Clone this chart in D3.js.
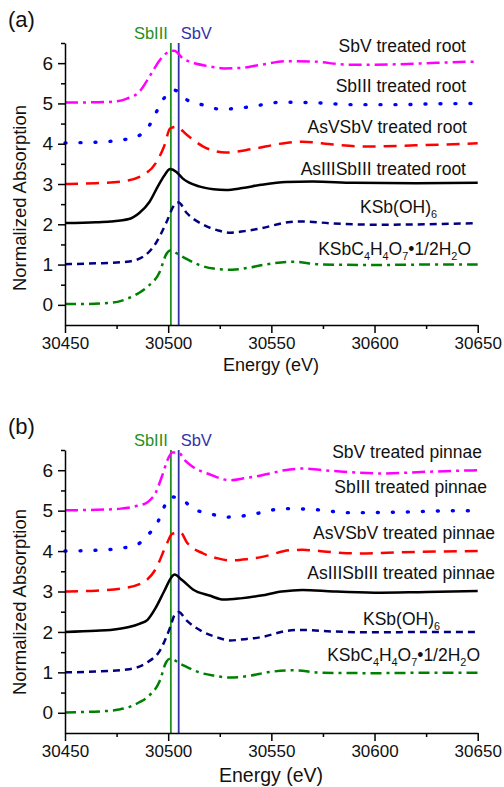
<!DOCTYPE html>
<html>
<head>
<meta charset="utf-8">
<script src="https://cdn.jsdelivr.net/npm/d3@7"></script>
<style>
  body { margin: 0; background: #fff; }
  text { font-family: "Liberation Sans", Arial, sans-serif; }
</style>
</head>
<body>
<div id="chart"></div>
<script>
// energies (eV) and normalized absorption (before offset)
var rootKSbC = [[30450,0.02],[30460,0.02],[30469,0.04],[30476,0.08],[30481,0.17],[30486,0.3],[30490,0.45],[30496,0.83],[30499,1.25],[30501,1.35],[30506,1.22],[30515,0.99],[30522,0.9],[30531,0.87],[30540,0.93],[30548,1.01],[30560,1.07],[30575,1.0],[30600,0.99],[30625,1.0],[30650,1.0]];
var rootKSbOH = [[30450,0.01],[30465,0.03],[30480,0.07],[30488,0.2],[30494,0.53],[30499,1.03],[30503,1.48],[30505,1.54],[30509,1.28],[30517,0.99],[30524,0.85],[30530,0.79],[30537,0.83],[30545,0.9],[30558,1.05],[30565,1.07],[30580,1.02],[30600,0.99],[30625,1.0],[30650,1.03]];
var rootAsIII = [[30450,0.03],[30465,0.05],[30472,0.07],[30481,0.13],[30486,0.28],[30491,0.56],[30495,0.94],[30498,1.2],[30501,1.37],[30504,1.3],[30507,1.14],[30515,0.94],[30522,0.87],[30528,0.85],[30536,0.9],[30545,0.98],[30557,1.05],[30570,1.06],[30590,1.03],[30620,1.02],[30650,1.03]];
var rootAsV = [[30450,0.0],[30465,0.02],[30477,0.06],[30488,0.23],[30494,0.52],[30498,0.93],[30501,1.38],[30504,1.42],[30509,1.22],[30517,0.93],[30528,0.78],[30541,0.87],[30557,1.02],[30565,1.05],[30580,0.98],[30595,0.93],[30620,0.96],[30650,1.01]];
var rootSbIII = [[30450,0.02],[30460,0.03],[30470,0.05],[30477,0.09],[30485,0.18],[30490,0.38],[30494,0.76],[30498,1.13],[30503,1.33],[30509,1.09],[30517,0.96],[30525,0.86],[30532,0.87],[30540,0.92],[30555,1.03],[30570,1.02],[30590,0.97],[30610,0.97],[30630,0.99],[30650,1.0]];
var rootSbV = [[30450,0.02],[30465,0.03],[30473,0.04],[30480,0.12],[30486,0.29],[30491,0.67],[30496,1.08],[30499,1.24],[30503,1.31],[30507,1.12],[30512,1.01],[30520,0.92],[30527,0.87],[30535,0.88],[30545,0.96],[30558,1.05],[30570,1.04],[30588,0.96],[30610,0.97],[30630,1.01],[30650,1.04]];

var pinKSbC = [[30450,0.01],[30469,0.04],[30476,0.08],[30481,0.14],[30486,0.26],[30490,0.39],[30496,0.8],[30499,1.25],[30501,1.34],[30506,1.21],[30515,1.0],[30522,0.92],[30530,0.87],[30540,0.92],[30548,1.0],[30560,1.05],[30575,0.99],[30600,0.98],[30625,0.99],[30650,0.99]];
var pinKSbOH = [[30450,0.0],[30465,0.02],[30480,0.07],[30490,0.25],[30496,0.54],[30501,1.12],[30503,1.41],[30505,1.49],[30509,1.28],[30517,1.0],[30524,0.86],[30530,0.79],[30537,0.82],[30545,0.87],[30558,1.03],[30565,1.05],[30580,1.01],[30600,0.99],[30625,1.0],[30650,1.0]];
var pinAsIII = [[30450,0.0],[30465,0.03],[30472,0.05],[30481,0.12],[30486,0.2],[30490,0.3],[30494,0.6],[30498,1.0],[30502,1.38],[30503,1.42],[30507,1.27],[30512,1.05],[30520,0.9],[30527,0.8],[30535,0.83],[30545,0.9],[30555,1.0],[30565,1.04],[30580,1.0],[30600,0.97],[30625,0.99],[30650,1.01]];
var pinAsV = [[30450,0.0],[30465,0.02],[30477,0.07],[30488,0.23],[30494,0.56],[30499,1.14],[30502,1.43],[30506,1.46],[30509,1.22],[30517,0.94],[30524,0.82],[30530,0.77],[30538,0.8],[30545,0.85],[30559,1.02],[30565,1.03],[30580,0.97],[30593,0.94],[30620,0.98],[30650,1.0]];
var pinSbIII = [[30450,0.0],[30465,0.02],[30477,0.07],[30485,0.16],[30490,0.39],[30495,0.72],[30498,1.09],[30501,1.34],[30506,1.3],[30512,1.05],[30520,0.93],[30528,0.84],[30535,0.86],[30543,0.93],[30556,1.05],[30570,1.03],[30588,0.95],[30610,0.96],[30630,0.99],[30650,1.0]];
var pinSbV = [[30450,0.01],[30465,0.02],[30477,0.05],[30485,0.12],[30490,0.21],[30494,0.45],[30497,0.85],[30500,1.29],[30502,1.44],[30505,1.44],[30508,1.25],[30512,1.08],[30520,0.9],[30530,0.75],[30537,0.8],[30545,0.87],[30559,1.02],[30565,1.04],[30580,0.98],[30604,0.92],[30625,0.96],[30650,1.0]];

var offsets = [0, 1, 2, 3, 4, 5];
var rootNames = ["KSbC_4H_4O_7\u20221/2H_2O", "KSb(OH)_6", "AsIIISbIII treated root", "AsVSbV treated root", "SbIII treated root", "SbV treated root"];
var pinNames = ["KSbC_4H_4O_7\u20221/2H_2O", "KSb(OH)_6", "AsIIISbIII treated pinnae", "AsVSbV treated pinnae", "SbIII treated pinnae", "SbV treated pinnae"];
var refEnergies = [30501.3, 30505.1];
var refNames = ["SbIII", "SbV"];
var xTicks = [30450, 30500, 30550, 30600, 30650];
var xMinor = [30475, 30525, 30575, 30625];
var yTicks = [0, 1, 2, 3, 4, 5, 6];
var yMinor = [0.5, 1.5, 2.5, 3.5, 4.5, 5.5, 6.5];

var FONT = '"Liberation Sans", Arial, sans-serif';
var styles = [
  {color: "#008000", dash: "11,5,3,5", cap: "butt", w: 2.5},
  {color: "#000080", dash: "7,5", cap: "butt", w: 2.5},
  {color: "#000000", dash: null, cap: "butt", w: 2.5},
  {color: "#ff0000", dash: "13,8", cap: "butt", w: 2.5},
  {color: "#0000ff", dash: "1,14", cap: "round", w: 3.4},
  {color: "#ff00ff", dash: "13,5,3,5", cap: "butt", w: 2.5}
];
var refColors = ["#1f8f1f", "#3333a8"];

var svg = d3.select('#chart').append('svg')
  .attr('width', 504).attr('height', 787);

function addLabel(g, str, x, y, size) {
  var t = g.append('text').attr('x', x).attr('y', y)
    .attr('text-anchor', 'end').style('font-family', FONT)
    .style('font-size', size + 'px').attr('fill', '#111');
  var parts = str.split(/(_\d)/).filter(function(p){return p.length > 0});
  var shifted = false;
  parts.forEach(function(p){
    if (p[0] === '_') {
      t.append('tspan').attr('dy', 5).style('font-size', (size * 0.62) + 'px').text(p.slice(1));
      shifted = true;
    } else {
      t.append('tspan').attr('dy', shifted ? -5 : 0).text(p);
      shifted = false;
    }
  });
}

function drawPanel(p) {
  var x = d3.scaleLinear().domain([30450, 30650]).range([65, 477.7]);
  var y = d3.scaleLinear().domain([-0.5, 6.5]).range([p.bottom, p.top]);
  var g = svg.append('g');

  // reference lines
  refEnergies.forEach(function(e, i){
    g.append('line').attr('x1', x(e)).attr('x2', x(e))
      .attr('y1', y(-0.5)).attr('y2', y(6.5))
      .attr('stroke', refColors[i]).attr('stroke-width', 1.8);
  });
  g.append('text').attr('x', x(refEnergies[0]) - 3).attr('y', p.top - 4)
    .attr('text-anchor', 'end').style('font-family', FONT).style('font-size', '16.5px')
    .attr('fill', refColors[0]).text(refNames[0]);
  g.append('text').attr('x', x(refEnergies[1]) + 2).attr('y', p.top - 4)
    .style('font-family', FONT).style('font-size', '16.5px')
    .attr('fill', refColors[1]).text(refNames[1]);

  var line = d3.line()
    .x(function(d){return x(d[0])})
    .y(function(d){return y(d[1])})
    .curve(d3.curveMonotoneX);

  p.series.forEach(function(s, i){
    var st = styles[i];
    var pts = s.map(function(d){return [d[0], d[1] + offsets[i]]});
    g.append('path').attr('d', line(pts)).attr('fill', 'none')
      .attr('stroke', st.color).attr('stroke-width', st.w)
      .attr('stroke-dasharray', st.dash).attr('stroke-linecap', st.cap);
    addLabel(g, p.names[i], p.labelX[i], y(offsets[i] + p.labelDy[i]), 17.5);
  });

  // axes
  g.append('g').attr('transform', 'translate(65,0)')
    .call(d3.axisLeft(y).tickValues(yMinor).tickSize(4).tickFormat(''))
    .call(function(a){a.select('.domain').remove()});
  var ya = g.append('g').attr('transform', 'translate(65,0)')
    .call(d3.axisLeft(y).tickValues(yTicks).tickSize(7).tickSizeOuter(0)
      .tickFormat(d3.format('d')).tickPadding(5));
  ya.attr('font-family', null).attr('font-size', null);
  ya.selectAll('text').style('font-family', FONT).style('font-size', '19px').attr('fill', '#111');

  g.append('g').attr('transform', 'translate(0,' + p.bottom + ')')
    .call(d3.axisBottom(x).tickValues(xMinor).tickSize(4).tickFormat(''))
    .call(function(a){a.select('.domain').remove()});
  var xa = g.append('g').attr('transform', 'translate(0,' + p.bottom + ')')
    .call(d3.axisBottom(x).tickValues(xTicks).tickSize(8).tickSizeOuter(0)
      .tickFormat(d3.format('d')).tickPadding(4));
  xa.attr('font-family', null).attr('font-size', null);
  xa.selectAll('text').style('font-family', FONT).style('font-size', '17px').attr('fill', '#111');
  g.selectAll('.domain, .tick line').attr('stroke', '#000').attr('stroke-width', 1.5);

  g.append('text').attr('x', 271).attr('y', p.xLabelY).attr('text-anchor', 'middle')
    .style('font-family', FONT).style('font-size', p.xLabelSize + 'px')
    .attr('fill', '#111').text('Energy (eV)');
  g.append('text').attr('transform', 'translate(26,' + p.yLabelC + ') rotate(-90)')
    .attr('text-anchor', 'middle').style('font-family', FONT).style('font-size', '18.5px')
    .attr('fill', '#111').text('Normalized Absorption');
  g.append('text').attr('x', 8).attr('y', p.top - 16)
    .style('font-family', FONT).style('font-size', '22px').attr('fill', '#111').text(p.tag);
}

drawPanel({
  top: 43, bottom: 325, tag: '(a)',
  series: [rootKSbC, rootKSbOH, rootAsIII, rootAsV, rootSbIII, rootSbV],
  names: rootNames,
  labelX: [471, 437, 466, 467, 466, 466],
  labelDy: [1.24, 1.28, 1.23, 1.27, 1.29, 1.28],
  xLabelY: 371, xLabelSize: 18, yLabelC: 198
});
drawPanel({
  top: 450, bottom: 733, tag: '(b)',
  series: [pinKSbC, pinKSbOH, pinAsIII, pinAsV, pinSbIII, pinSbV],
  names: pinNames,
  labelX: [480, 440, 495, 495, 487, 482],
  labelDy: [1.29, 1.18, 1.32, 1.31, 1.43, 1.29],
  xLabelY: 782, xLabelSize: 19.5, yLabelC: 602
});
</script>
</body>
</html>
